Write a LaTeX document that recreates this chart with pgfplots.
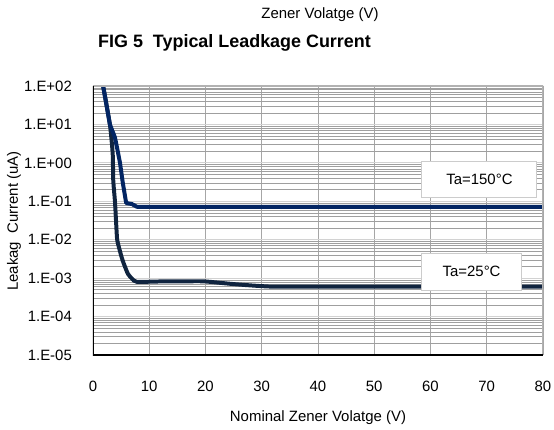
\documentclass[border=0pt]{standalone}
\usepackage{pgfplots}
\pgfplotsset{compat=1.18}
\usepackage{fontspec}
\setmainfont{Liberation Sans}
\definecolor{navyc}{HTML}{022563}
\definecolor{darkc}{HTML}{10243F}
\begin{document}
\fontsize{15}{17}\selectfont
\begin{tikzpicture}[x=1bp,y=1bp]
\useasboundingbox (-93bp,-75bp) rectangle (461bp,355bp);
\begin{axis}[
  at={(0,0)}, anchor=south west,
  scale only axis, width=450bp, height=269bp,
  ymode=log, xmin=0, xmax=80, ymin=1e-5, ymax=1e2,
  xtick={0,10,...,80},
  ytick={1e-5,1e-4,1e-3,1e-2,1e-1,1e0,1e1,1e2},
  yticklabels={1.E-05,1.E-04,1.E-03,1.E-02,1.E-01,1.E+00,1.E+01,1.E+02},
  minor ytick={2e-5,3e-5,4e-5,5e-5,6e-5,7e-5,8e-5,9e-5,
               2e-4,3e-4,4e-4,5e-4,6e-4,7e-4,8e-4,9e-4,
               2e-3,3e-3,4e-3,5e-3,6e-3,7e-3,8e-3,9e-3,
               2e-2,3e-2,4e-2,5e-2,6e-2,7e-2,8e-2,9e-2,
               2e-1,3e-1,4e-1,5e-1,6e-1,7e-1,8e-1,9e-1,
               2,3,4,5,6,7,8,9,20,30,40,50,60,70,80,90},
  xmajorgrids, ymajorgrids, yminorgrids,
  major grid style={gray!35, line width=1.2pt},
  minor grid style={gray!75, line width=0.5pt},
  x grid style={gray!70, line width=0.6pt},
  tick style={draw=none},
  axis line style={draw=none},
  /pgf/number format/assume math mode=true,
  xticklabel style={font=\fontsize{15}{17}\selectfont, yshift=-21bp},
  yticklabel style={font=\fontsize{15}{17}\selectfont, xshift=-16bp},
  clip=true,
]
\addplot[darkc, line width=4pt, line join=round, smooth, tension=0.35] coordinates {
 (1.8,100) (3.0,10) (3.5,1.75) (3.6,0.35) (3.9,0.1) (4.1,0.03) (4.3,0.01)
 (4.8,0.005) (5.3,0.0028) (6.2,0.0013) (7.0,0.00095) (7.8,0.0008)
 (12,0.00082) (18,0.00083) (20,0.00082) (25,0.0007) (30,0.00062) (35,0.0006) (80,0.0006)};
\addplot[navyc, line width=4pt, line join=round] coordinates {
 (1.8,100) (3.0,10) (3.9,4.6) (4.4,2) (4.8,1) (5.3,0.3) (5.9,0.09) (6.9,0.085) (7.8,0.072) (9,0.0716) (80,0.0716)};
\draw[gray!60, line width=1.4pt] (rel axis cs:0,1) -- (rel axis cs:1,1) -- (rel axis cs:1,0);
\draw[black, line width=1.4pt] (rel axis cs:0,1) -- (rel axis cs:0,0) -- (rel axis cs:1,0);
\node[draw=gray!40, line width=1pt, fill=white, minimum width=115bp, minimum height=36bp, inner sep=0pt]
  at (axis cs:68.7,0.38) {Ta=150°C};
\node[draw=gray!40, line width=1pt, fill=white, minimum width=100bp, minimum height=37bp, inner sep=0pt]
  at (axis cs:67.3,0.00148) {Ta=25°C};
\end{axis}
\node at (225bp,-63bp) {Nominal Zener Volatge (V)};
\node[rotate=90] at (-79bp,134bp) {Leakag\ \ Current (uA)};
\node[font=\fontsize{18}{20}\selectfont\bfseries] at (141.5bp,312bp) {FIG 5\ \ Typical Leadkage Current};
\node at (227bp,340bp) {Zener Volatge (V)};
\end{tikzpicture}
\end{document}
